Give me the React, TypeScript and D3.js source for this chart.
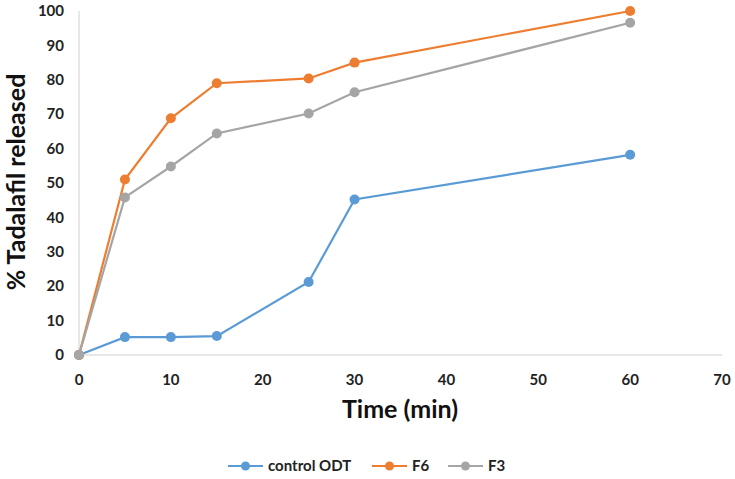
import React from "react";
import * as d3 from "d3";

const times = [0, 5, 10, 15, 25, 30, 60];
const controlODT = [0, 5.2, 5.2, 5.5, 21.2, 45.2, 58.2];
const f6 = [0, 51, 68.8, 79, 80.4, 85, 100];
const f3 = [0, 45.8, 54.8, 64.4, 70.2, 76.4, 96.6];
const xTicks = [0, 10, 20, 30, 40, 50, 60, 70];
const yTicks = [0, 10, 20, 30, 40, 50, 60, 70, 80, 90, 100];

const seriesNames = ["control ODT", "F6", "F3"];
const seriesColors = ["#5B9BD5", "#ED7D31", "#A5A5A5"];
const seriesValues = [controlODT, f6, f3];

const W = 735;
const H = 479;
const FONT = "Lato, 'Open Sans', sans-serif";

export default function App() {
  const x = d3.scaleLinear().domain([0, 70]).range([79, 722]);
  const y = d3.scaleLinear().domain([0, 100]).range([355, 11]);
  const line = d3
    .line<[number, number]>()
    .x((d) => x(d[0]))
    .y((d) => y(d[1]));

  const legendX = [228, 372, 448];
  const legendY = 466;

  return (
    <svg
      width={W}
      height={H}
      style={{ position: "absolute", left: 0, top: 0, background: "#fff" }}
      fontFamily={FONT}
    >
      {/* axes */}
      <line x1={x(0)} x2={x(0)} y1={y(100)} y2={y(0)} stroke="#D0D0D0" strokeWidth={1} />
      <line x1={x(0)} x2={x(70)} y1={y(0)} y2={y(0)} stroke="#D0D0D0" strokeWidth={1} />
      {yTicks.map((t) => (
        <text
          key={"y" + t}
          x={64}
          y={y(t)}
          dy="0.35em"
          textAnchor="end"
          fontSize={15}
          fontWeight="bold"
          fill="#222"
        >
          {t}
        </text>
      ))}
      {xTicks.map((t) => (
        <text
          key={"x" + t}
          x={x(t)}
          y={385}
          textAnchor="middle"
          fontSize={15}
          fontWeight="bold"
          fill="#222"
        >
          {t}
        </text>
      ))}
      <text
        x={400}
        y={418}
        textAnchor="middle"
        fontSize={25}
        fontWeight="bold"
        fill="#111"
      >
        Time (min)
      </text>
      <text
        transform={`translate(25,182) rotate(-90)`}
        textAnchor="middle"
        fontSize={25}
        fontWeight="bold"
        fill="#111"
      >
        % Tadalafil released
      </text>

      {/* series */}
      {seriesValues.map((vals, i) => {
        const pts = times.map((t, j) => [t, vals[j]] as [number, number]);
        return (
          <g key={seriesNames[i]}>
            <path d={line(pts) || ""} fill="none" stroke={seriesColors[i]} strokeWidth={2.2} />
            {pts.map((p, j) => (
              <circle key={j} cx={x(p[0])} cy={y(p[1])} r={5} fill={seriesColors[i]} />
            ))}
          </g>
        );
      })}

      {/* legend */}
      {seriesNames.map((name, i) => (
        <g key={"leg" + name} transform={`translate(${legendX[i]},${legendY})`}>
          <line x1={0} x2={35} y1={0} y2={0} stroke={seriesColors[i]} strokeWidth={2.2} />
          <circle cx={17.5} cy={0} r={4.5} fill={seriesColors[i]} />
          <text x={40} y={0} dy="0.35em" fontSize={15} fontWeight="bold" fill="#222">
            {name}
          </text>
        </g>
      ))}
    </svg>
  );
}
